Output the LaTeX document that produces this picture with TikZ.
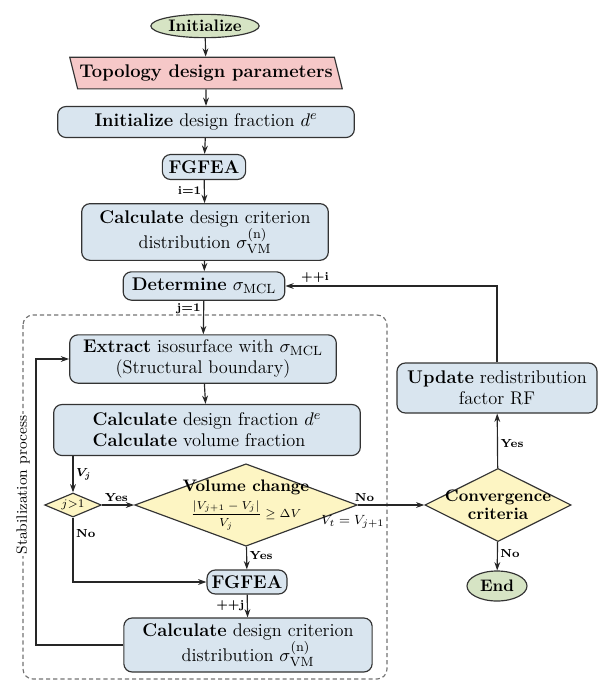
\documentclass[tikz,border=0pt]{standalone}
\usepackage{amsmath}
\usepackage{amsfonts}
\usepackage{tikz}
\usetikzlibrary{shapes.geometric,arrows.meta}

\definecolor{termgreen}{RGB}{214,228,196}
\definecolor{parampink}{RGB}{246,200,200}
\definecolor{procblue}{RGB}{217,229,239}
\definecolor{decyellow}{RGB}{253,245,195}

\tikzset{
	process/.style={shape=rectangle,rounded corners=5pt,draw=black!80,line width=0.7pt,fill=procblue,align=center,inner sep=2pt},
	terminal/.style={shape=ellipse,draw=black!80,line width=0.7pt,fill=termgreen,inner sep=1pt,font=\bfseries},
	param/.style={shape=trapezium,trapezium left angle=106,trapezium right angle=74,trapezium stretches=true,draw=black!80,line width=0.7pt,fill=parampink,minimum height=19pt,inner xsep=1pt},
	decision/.style={shape=diamond,draw=black!80,line width=0.7pt,fill=decyellow,align=center,inner sep=0pt},
	flow/.style={-{Stealth[length=5pt,width=3.5pt]},line width=0.7pt,draw=black!85},
	tag/.style={font=\fontsize{7}{8}\selectfont\bfseries,inner sep=1.5pt},
}

\begin{document}
\begin{tikzpicture}[x=0.6pt,y=-0.6pt,font=\fontsize{11}{12.5}\selectfont]
	\useasboundingbox (0,0) rectangle (597,682);

	% stabilization frame
	\draw[draw=black!55,line width=0.7pt,dash pattern=on 2.5pt off 1.8pt,rounded corners=6pt] (23,315) rectangle (387,679);
	\node[rotate=90,fill=white,inner sep=1pt,font=\fontsize{9}{10}\selectfont] (stab) at (23, 485) {Stabilization process};

	\node[terminal,minimum width=62pt,minimum height=14pt] (start) at (205, 26) {Initialize};
	\node[param] (params) at (206, 73) {\textbf{Topology design parameters}};
	\node[process,minimum width=178pt,minimum height=18.6pt] (initfrac) at (206, 122) {\textbf{Initialize} design fraction $d^e$};
	\node[process,minimum width=50pt,minimum height=15pt] (fgfeaA) at (204, 167) {\textbf{FGFEA}};
	\node[process,minimum width=148pt,minimum height=34pt] (critA) at (205, 232) {\textbf{Calculate} design criterion\\ distribution $\sigma_{\mathrm{VM}}^{(\mathrm{n})}$};
	\node[process,minimum width=97pt,minimum height=17pt] (mcl) at (204, 286) {\textbf{Determine} $\sigma_{\mathrm{MCL}}$};
	\node[process,minimum width=160pt,minimum height=29pt] (extract) at (203, 359) {\textbf{Extract} isosurface with $\sigma_{\mathrm{MCL}}$\\ (Structural boundary)};
	\node[process,minimum width=184pt,minimum height=30.6pt,align=left] (frac) at (207, 430) {\textbf{Calculate} design fraction $d^e$\\ \textbf{Calculate} volume fraction};
	\node[decision,minimum width=34pt,minimum height=14.4pt,aspect=2.4,font=\fontsize{7}{8}\selectfont] (jcheck) at (73, 505) {$j{>}1$};
	\node[decision,inner sep=-3pt,aspect=2.7,font=\fontsize{10}{11}\selectfont] (volume) at (246, 505) {\textbf{Volume change}\\[2pt] {\fontsize{7}{8}\selectfont$\dfrac{|V_{j+1}-V_j|}{V_j}\geq\Delta V$}};
	\node[process,minimum width=48pt,minimum height=14.4pt] (fgfeaB) at (247, 582) {\textbf{FGFEA}};
	\node[process,minimum width=149pt,minimum height=32.4pt] (critB) at (248, 645) {\textbf{Calculate} design criterion\\ distribution $\sigma_{\mathrm{VM}}^{(\mathrm{n})}$};
	\node[process,minimum width=120pt,minimum height=30pt] (update) at (497, 388) {\textbf{Update} redistribution\\ factor RF};
	\node[decision,inner sep=-2pt,aspect=2.0,font=\fontsize{10}{11}\selectfont\bfseries] (converge) at (498, 505) {Convergence\\ criteria};
	\node[terminal,minimum width=36pt,minimum height=18pt] (finish) at (497, 586) {End};

	\coordinate (rail) at (36, 500);

	\path[flow] (start) edge (params);
	\path[flow] (params) edge (initfrac);
	\path[flow] (initfrac) edge (fgfeaA);
	\path[flow] (fgfeaA) edge node[tag,left,pos=0.45]{i=1} (critA);
	\path[flow] (critA) edge (mcl);
	\path[flow] (mcl) edge node[tag,left,pos=0.25]{j=1} (extract);
	\path[flow] (extract) edge (frac);
	\draw[flow] (frac.south -| jcheck.north) -- (jcheck.north) node[tag,midway,right]{$\boldsymbol{V_j}$};
	\path[flow] (jcheck) edge node[tag,above,pos=0.45]{Yes} (volume);
	\draw[flow] (jcheck.south) |- (fgfeaB.west) node[tag,pos=0.12,right]{No};
	\path[flow] (volume) edge node[tag,right,pos=0.4]{Yes} (fgfeaB);
	\path[flow] (fgfeaB) edge node[tag,left,pos=0.5]{++j} (critB);
	\draw[flow] (critB.west) -- (critB.west -| rail) -- (extract.west -| rail) -- (extract.west);
	\draw[flow] (volume.east) -- (converge.west) node[tag,above,pos=0.1]{No} node[below=5pt,pos=0,xshift=-3pt,inner sep=1pt,font=\fontsize{8}{9}\selectfont]{$V_t=V_{j+1}$};
	\path[flow] (converge) edge node[tag,right,pos=0.45]{Yes} (update);
	\path[flow] (converge) edge node[tag,right,pos=0.4]{No} (finish);
	\draw[flow] (update.north) |- (mcl.east) node[tag,above,pos=0.93]{++i};
\end{tikzpicture}
\end{document}
